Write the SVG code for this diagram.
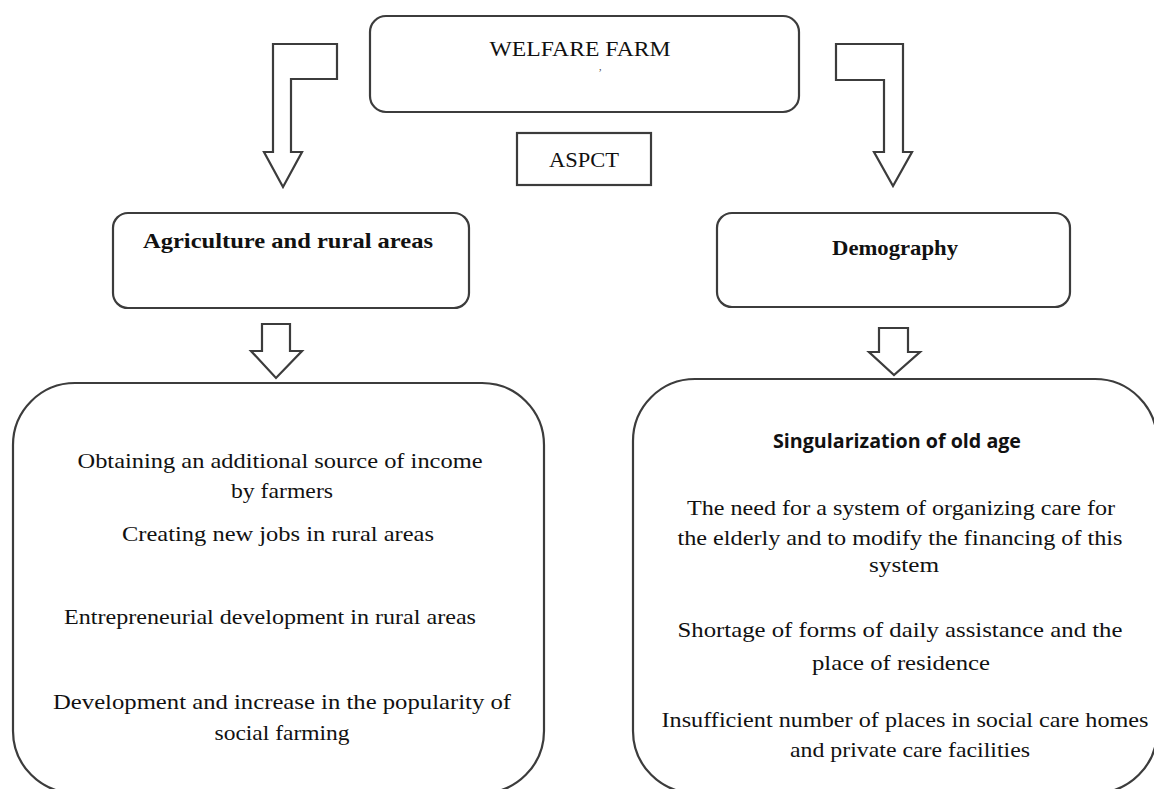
<svg xmlns="http://www.w3.org/2000/svg" width="1154" height="789" viewBox="0 0 1154 789">
<style>
.box{fill:#fff;stroke:#3c3c3c;stroke-width:2.2}
.arr{fill:#fff;stroke:#3c3c3c;stroke-width:2.2;stroke-linejoin:miter}
.t{font-family:"Liberation Serif",serif;font-size:22px;fill:#111;text-anchor:middle}
.b{font-family:"Liberation Serif",serif;font-size:21px;font-weight:bold;fill:#111;text-anchor:middle}
.s{font-family:"Open Sans","Liberation Sans",sans-serif;font-size:19px;font-weight:bold;fill:#111;text-anchor:middle}
</style>
<g id="connectors">
<polygon class="arr" points="273,44 337,44 337,79 291,79 291,152 302,152 283,187 264,152 273,152"/>
<polygon class="arr" points="836,44 903,44 903,152 912,152 893,186 874,152 884,152 884,80 836,80"/>
<polygon class="arr" points="262,324 290,324 290,351 302,351 276,378 251,351 262,351"/>
<polygon class="arr" points="879,328 908,328 908,352 920,352 894,375 869,352 879,352"/>
</g>
<g id="welfare">
<rect class="box" x="370" y="16" width="429" height="96" rx="16"/>
<text class="t" x="580" y="56" textLength="181" lengthAdjust="spacingAndGlyphs">WELFARE FARM</text>
<text x="599" y="70" font-family="Liberation Serif,serif" font-size="10" fill="#333">,</text>
</g>
<g id="aspct">
<rect class="box" x="517" y="133" width="134" height="52"/>
<text class="t" x="584" y="167" textLength="70" lengthAdjust="spacingAndGlyphs">ASPCT</text>
</g>
<g id="agriculture">
<rect class="box" x="113" y="213" width="356" height="95" rx="15"/>
<text class="b" x="288" y="248" textLength="290" lengthAdjust="spacingAndGlyphs">Agriculture and  rural areas</text>
</g>
<g id="demography">
<rect class="box" x="717" y="213" width="353" height="94" rx="15"/>
<text class="b" x="895" y="255" textLength="126" lengthAdjust="spacingAndGlyphs">Demography</text>
</g>
<g id="agri-effects">
<rect class="box" x="13" y="383" width="531" height="410" rx="62"/>
<text class="t" x="280" y="468" textLength="405" lengthAdjust="spacingAndGlyphs">Obtaining an additional source of income</text>
<text class="t" x="282" y="498" textLength="102" lengthAdjust="spacingAndGlyphs">by farmers</text>
<text class="t" x="278" y="541" textLength="312" lengthAdjust="spacingAndGlyphs">Creating new jobs in rural areas</text>
<text class="t" x="270" y="624" textLength="412" lengthAdjust="spacingAndGlyphs">Entrepreneurial development in rural areas</text>
<text class="t" x="282" y="709" textLength="458" lengthAdjust="spacingAndGlyphs">Development  and increase in the popularity of</text>
<text class="t" x="282" y="740" textLength="135" lengthAdjust="spacingAndGlyphs">social farming</text>
</g>
<g id="demo-effects">
<rect class="box" x="633" y="379" width="524" height="414" rx="62"/>
<text class="s" x="897" y="448" textLength="248" lengthAdjust="spacingAndGlyphs">Singularization of old age</text>
<text class="t" x="901" y="515" textLength="428" lengthAdjust="spacingAndGlyphs">The need for a system of organizing care for</text>
<text class="t" x="900" y="545" textLength="445" lengthAdjust="spacingAndGlyphs">the elderly and to modify the financing of this</text>
<text class="t" x="904" y="572" textLength="70" lengthAdjust="spacingAndGlyphs">system</text>
<text class="t" x="900" y="637" textLength="445" lengthAdjust="spacingAndGlyphs">Shortage of forms  of daily assistance and the</text>
<text class="t" x="901" y="670" textLength="178" lengthAdjust="spacingAndGlyphs">place of residence</text>
<text class="t" x="905" y="727" textLength="487" lengthAdjust="spacingAndGlyphs">Insufficient number of places in social care homes</text>
<text class="t" x="910" y="757" textLength="240" lengthAdjust="spacingAndGlyphs">and private care facilities</text>
</g>
</svg>
